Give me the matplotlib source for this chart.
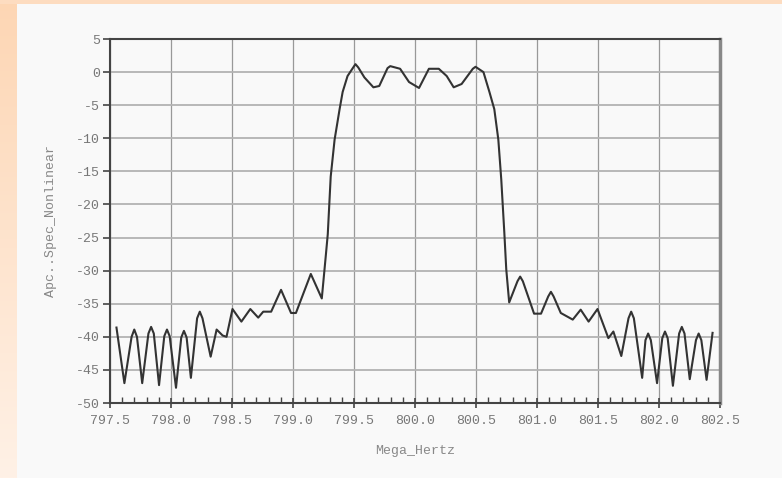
import numpy as np
import matplotlib
matplotlib.use("Agg")
import matplotlib.pyplot as plt
from matplotlib.ticker import MultipleLocator, FormatStrFormatter

# == data ==
freq = [797.553, 797.618, 797.677, 797.699, 797.721, 797.764, 797.815, 797.837,
        797.859, 797.902, 797.945, 797.967, 797.989, 798.041, 798.084, 798.106,
        798.128, 798.163, 798.214, 798.236, 798.258, 798.325, 798.374, 798.423,
        798.455, 798.504, 798.577, 798.650, 798.715, 798.756, 798.821, 798.902,
        798.984, 799.024, 799.146, 799.236, 799.268, 799.285, 799.309, 799.341,
        799.382, 799.407, 799.447, 799.490, 799.512, 799.535, 799.585, 799.659,
        799.707, 799.775, 799.797, 799.878, 799.951, 800.033, 800.114, 800.195,
        800.260, 800.317, 800.382, 800.474, 800.496, 800.561, 800.610, 800.650,
        800.683, 800.707, 800.732, 800.748, 800.772, 800.840, 800.862, 800.884,
        800.976, 801.033, 801.092, 801.114, 801.136, 801.195, 801.293, 801.358,
        801.423, 801.496, 801.585, 801.626, 801.691, 801.750, 801.772, 801.794,
        801.862, 801.889, 801.911, 801.933, 801.984, 802.027, 802.049, 802.071,
        802.114, 802.165, 802.187, 802.209, 802.252, 802.303, 802.325, 802.347,
        802.390, 802.439]
level = [-38.6, -47.0, -40.0, -38.9, -40.0, -47.0, -39.5, -38.5,
         -39.5, -47.3, -39.9, -38.9, -39.9, -47.7, -40.1, -39.1,
         -40.1, -46.2, -37.2, -36.2, -37.2, -43.0, -38.9, -39.8,
         -40.0, -35.8, -37.7, -35.8, -37.1, -36.2, -36.2, -32.9,
         -36.4, -36.4, -30.5, -34.2, -27.9, -24.5, -15.8, -10.2,
         -5.6, -3.0, -0.6, 0.6, 1.2, 0.7, -0.8, -2.3,
         -2.1, 0.6, 0.9, 0.5, -1.5, -2.4, 0.5, 0.5,
         -0.6, -2.3, -1.8, 0.5, 0.8, 0.0, -3.0, -5.6,
         -10.2, -16.2, -24.2, -29.8, -34.8, -31.6, -30.9, -31.6,
         -36.5, -36.5, -33.9, -33.2, -33.9, -36.4, -37.4, -35.9,
         -37.7, -35.8, -40.2, -39.2, -42.9, -37.2, -36.2, -37.2,
         -46.2, -40.5, -39.5, -40.5, -47.0, -40.2, -39.2, -40.2,
         -47.4, -39.5, -38.5, -39.5, -46.4, -40.5, -39.5, -40.5,
         -46.5, -39.4]
xticks = [797.5, 798.0, 798.5, 799.0, 799.5, 800.0, 800.5, 801.0, 801.5, 802.0, 802.5]
yticks = [5, 0, -5, -10, -15, -20, -25, -30, -35, -40, -45, -50]

plt.rcParams['axes.unicode_minus'] = False
mono = 'Liberation Mono'

fig = plt.figure(figsize=(7.82, 4.78), dpi=100)
fig.patch.set_facecolor('#f9f9f9')

# orange frame strips (left and top)
strip = fig.add_axes([0, 0, 17 / 782, 1])
grad = np.linspace(0, 1, 256).reshape(-1, 1)
strip.imshow(grad, aspect='auto', cmap=matplotlib.colors.LinearSegmentedColormap.from_list(
    'o', ['#fdd6b4', '#fff1e6']), extent=[0, 1, 0, 1])
strip.axis('off')
top = fig.add_axes([0, 1 - 4 / 478, 1, 4 / 478])
top.set_facecolor('#fddcc0')
top.set_xticks([]); top.set_yticks([])
for s in top.spines.values():
    s.set_visible(False)

ax = fig.add_axes([110 / 782, 1 - 403 / 478, 610 / 782, 364 / 478])
ax.set_facecolor('#f9f9f9')
ax.plot(freq, level, color='#333333', lw=1.5, solid_joinstyle='round')

ax.set_xlim(797.5, 802.5)
ax.set_ylim(-50, 5)
ax.set_xticks(xticks)
ax.set_yticks(yticks)
ax.xaxis.set_major_formatter(FormatStrFormatter('%.1f'))
ax.xaxis.set_minor_locator(MultipleLocator(0.1))

ax.grid(axis='x', color='#999999', lw=0.9)
ax.grid(axis='y', color='#b3b3b3', lw=1.3)

ax.tick_params(axis='x', which='major', direction='inout', length=7, width=1.2,
               color='#444444', labelsize=9.5, labelcolor='#777777', pad=5)
ax.tick_params(axis='x', which='minor', direction='in', length=4, width=1,
               color='#444444')
ax.tick_params(axis='y', direction='out', length=5, width=1.2,
               color='#444444', labelsize=9.5, labelcolor='#777777', pad=2)
for lab in ax.get_xticklabels() + ax.get_yticklabels():
    lab.set_family(mono)

for side in ['left', 'bottom', 'top']:
    ax.spines[side].set_color('#444444')
    ax.spines[side].set_linewidth(1.5)
ax.spines['right'].set_color('#888888')
ax.spines['right'].set_linewidth(2.5)

ax.set_xlabel('Mega_Hertz', family=mono, fontsize=9.5, color='#888888', labelpad=13)
ax.set_ylabel('Apc..Spec_Nonlinear', family=mono, fontsize=9.5, color='#888888', labelpad=14)

fig.savefig('out.png', dpi=100, facecolor=fig.get_facecolor())
